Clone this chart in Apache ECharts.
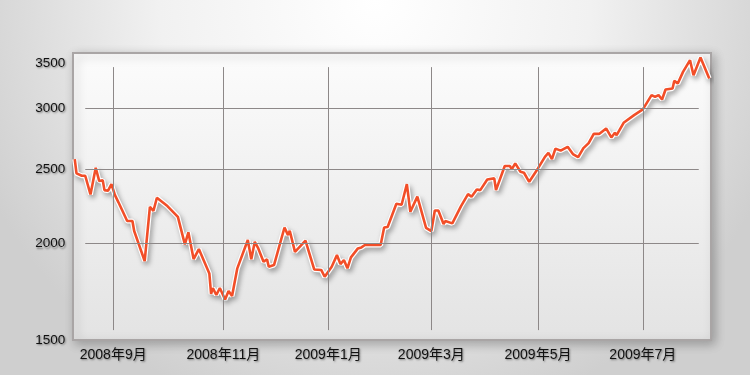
<!DOCTYPE html>
<html><head><meta charset="utf-8">
<script src="https://cdn.jsdelivr.net/npm/echarts@6/dist/echarts.min.js"></script>
<style>html,body{margin:0;padding:0;}#c{width:750px;height:375px;}</style>
</head><body><div id="c"></div>
<script>
const dates = ['2008-08-10','2008-08-11','2008-08-14','2008-08-16','2008-08-19','2008-08-22','2008-08-24','2008-08-26','2008-08-27','2008-08-29','2008-08-31',
'2008-09-02','2008-09-04','2008-09-09','2008-09-12','2008-09-13','2008-09-14','2008-09-19','2008-09-22','2008-09-24','2008-09-26',
'2008-10-02','2008-10-08','2008-10-12','2008-10-14','2008-10-17','2008-10-20','2008-10-26','2008-10-27','2008-10-28','2008-10-30',
'2008-11-01','2008-11-04','2008-11-06','2008-11-08','2008-11-11','2008-11-12','2008-11-17','2008-11-19','2008-11-21','2008-11-23','2008-11-26','2008-11-28','2008-11-29',
'2008-12-02','2008-12-08','2008-12-10','2008-12-11','2008-12-14','2008-12-20','2008-12-25','2008-12-29','2008-12-31',
'2009-01-04','2009-01-07','2009-01-09','2009-01-11','2009-01-13','2009-01-15','2009-01-19','2009-01-21','2009-01-23',
'2009-02-01','2009-02-03','2009-02-05','2009-02-10','2009-02-13','2009-02-16','2009-02-18','2009-02-22','2009-02-27',
'2009-03-02','2009-03-04','2009-03-06','2009-03-09','2009-03-10','2009-03-14','2009-03-19','2009-03-23','2009-03-25','2009-03-28','2009-03-30',
'2009-04-03','2009-04-07','2009-04-08','2009-04-13','2009-04-16','2009-04-17','2009-04-19','2009-04-22','2009-04-24','2009-04-27',
'2009-05-02','2009-05-06','2009-05-08','2009-05-10','2009-05-12','2009-05-15','2009-05-19','2009-05-22','2009-05-25','2009-05-28','2009-05-31',
'2009-06-03','2009-06-06','2009-06-10','2009-06-13','2009-06-15','2009-06-16','2009-06-20','2009-06-26',
'2009-07-01','2009-07-06','2009-07-08','2009-07-10','2009-07-12','2009-07-14','2009-07-18','2009-07-19','2009-07-21','2009-07-24','2009-07-28','2009-07-30',
'2009-08-03','2009-08-08'];
const values = [2575,2467,2450,2450,2317,2509,2411,2418,2347,2342,2390,
2312,2263,2140,2140,2077,2069,1899,2233,2205,2294,
2238,2167,1996,2069,1910,1968,1830,1721,1752,1716,
1752,1693,1736,1711,1858,1852,2022,1909,2011,1972,1895,1909,1867,
1876,2099,2052,2079,1952,2018,1852,1849,1812,
1867,1933,1882,1905,1858,1920,1972,1978,1992,
1992,2099,2102,2253,2247,2390,2200,2302,2097,
2077,2208,2208,2121,2140,2125,2238,2319,2301,2352,2347,
2423,2431,2347,2522,2522,2497,2542,2479,2472,2406,
2504,2592,2624,2575,2657,2641,2671,2614,2590,2661,2701,
2778,2776,2822,2747,2785,2766,2870,2936,
2987,3117,3101,3117,3077,3170,3180,3253,3228,3341,3460,3308,
3488,3276];
const yTicks = [1500, 2000, 2500, 3000, 3500];
const yGridValues = [2000, 2500, 3000];
const monthDates = ['2008-09-01','2008-11-03','2009-01-02','2009-03-02','2009-05-02','2009-07-01'];
const monthLabels = ['2008年9月','2008年11月','2009年1月','2009年3月','2009年5月','2009年7月'];

const ts = s => new Date(s + 'T00:00:00').getTime();
const seriesData = dates.map((d, i) => [ts(d), values[i]]);
const FONT = '"Liberation Sans", "Noto Sans CJK JP", sans-serif';
const labelBase = {
  show: true, color: '#111111', fontFamily: FONT, fontSize: 13.5,
  textShadowColor: 'rgba(0,0,0,0.45)', textShadowBlur: 2, textShadowOffsetX: 1, textShadowOffsetY: 1.5
};
const hStart = ts('2008-08-16'), hEnd = ts('2009-08-02');
const vBottom = 1545, vTop = 3389;

const mlData = [];
yTicks.forEach(v => {
  const isGrid = yGridValues.indexOf(v) >= 0;
  const lbl = Object.assign({}, labelBase, { position: 'start', distance: 20, formatter: String(v) });
  if (v === 3500) { lbl.verticalAlign = 'top'; }
  mlData.push([
    { coord: [hStart, v],
      lineStyle: { color: isGrid ? '#8d8888' : 'rgba(0,0,0,0)' },
      label: lbl },
    { coord: [hEnd, v] }
  ]);
});
monthDates.forEach((d, i) => {
  mlData.push([
    { coord: [ts(d), vBottom],
      label: Object.assign({}, labelBase, { position: 'start', distance: 18, fontSize: 14, formatter: monthLabels[i] }) },
    { coord: [ts(d), vTop] }
  ]);
});

const chart = echarts.init(document.getElementById('c'));
chart.setOption({
  animation: false,
  backgroundColor: { type: 'radial', x: 0.5, y: 0.0, r: 1.15,
    colorStops: [{ offset: 0, color: '#ffffff' }, { offset: 0.5, color: '#f1f1f1' }, { offset: 1, color: '#cfcfcf' }] },
  grid: { left: 73, top: 53, right: 39, bottom: 35, show: true,
    borderColor: '#a9a5a5', borderWidth: 2,
    backgroundColor: { type: 'linear', x: 0, y: 0, x2: 0, y2: 1,
      colorStops: [{ offset: 0, color: '#fcfcfc' }, { offset: 1, color: '#e3e3e3' }] },
    shadowColor: 'rgba(0,0,0,0.25)', shadowBlur: 10, shadowOffsetX: 3, shadowOffsetY: 3 },
  xAxis: { type: 'time', min: ts('2008-08-09'), max: ts('2009-08-09'), show: false },
  yAxis: { type: 'log', logBase: 10, min: 1500, max: 3535, show: false },
  series: [
    { type: 'line', data: seriesData, z: 1, silent: true, showSymbol: false, symbol: 'none',
      lineStyle: { opacity: 0 },
      markLine: { silent: true, symbol: ['none', 'none'], animation: false,
        lineStyle: { color: '#8d8888', width: 1, type: 'solid' },
        label: { show: false }, emphasis: { disabled: true },
        data: mlData } },
    { type: 'line', data: seriesData, z: 3, silent: true, showSymbol: false, symbol: 'none',
      lineStyle: { color: '#ffffff', width: 5, shadowColor: 'rgba(0,0,0,0.35)', shadowBlur: 5, shadowOffsetX: 2, shadowOffsetY: 3 } },
    { type: 'line', data: seriesData, z: 4, silent: true, showSymbol: false, symbol: 'none',
      lineStyle: { color: '#f24e28', width: 2.6 } }
  ]
});
</script></body></html>
